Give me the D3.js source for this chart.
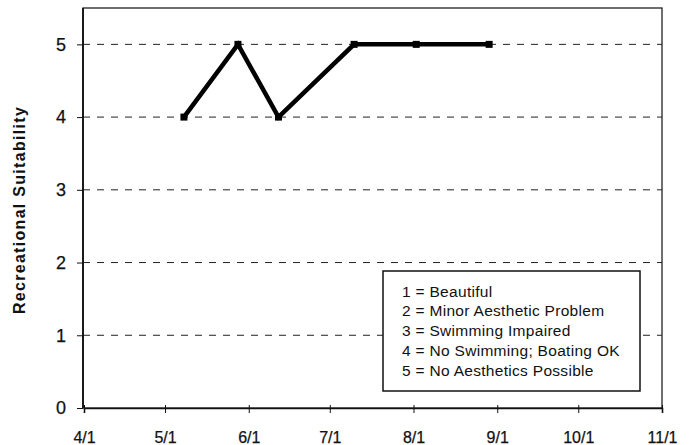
<!DOCTYPE html>
<html><head><meta charset="utf-8">
<script src="https://cdn.jsdelivr.net/npm/d3@7"></script>
<style>
body{margin:0;background:#fff;}
svg{display:block;font-family:"Liberation Sans",Arial,sans-serif;}
</style></head>
<body>
<svg id="c" width="697" height="445"></svg>
<script>
// Data
const dates = ["2001-05-08","2001-05-28","2001-06-12","2001-07-10","2001-08-02","2001-08-29"];
const values = [4, 5, 4, 5, 5, 5];
const xTickLabels = ["4/1","5/1","6/1","7/1","8/1","9/1","10/1","11/1"];
const yTicks = [0,1,2,3,4,5];
const gridValues = [1,2,3,4,5];
const legendLines = ["1 = Beautiful","2 = Minor Aesthetic Problem","3 = Swimming Impaired","4 = No Swimming; Boating OK","5 = No Aesthetics Possible"];
const yTitle = "Recreational Suitability";

const parse = d3.timeParse("%Y-%m-%d");
const xTickDates = ["2001-04-01","2001-05-01","2001-06-01","2001-07-01","2001-08-01","2001-09-01","2001-10-01","2001-11-01"].map(parse);
const data = dates.map((d,i)=>({date:parse(d), v:values[i]}));

const svg = d3.select("#c");
const L=83, R=662, T=8, B=408;
const x = d3.scaleTime().domain([xTickDates[0], xTickDates[xTickDates.length-1]]).range([L+1, R]);
const y = d3.scaleLinear().domain([0,5.5]).range([B, T]);

// plot frame
svg.append("rect").attr("x",L).attr("y",T).attr("width",R-L).attr("height",B-T)
  .attr("fill","none").attr("stroke","#222").attr("stroke-width",1.3);

// gridlines
svg.append("g").selectAll("line").data(gridValues).join("line")
  .attr("x1",L).attr("x2",R).attr("y1",d=>y(d)).attr("y2",d=>y(d))
  .attr("stroke","#222").attr("stroke-width",1).attr("stroke-dasharray","7,7");

// x axis
const xAxis = d3.axisBottom(x).tickValues(xTickDates).tickSize(5)
  .tickFormat((d,i)=>xTickLabels[i]);
const gx = svg.append("g").attr("transform",`translate(0,${B})`).call(xAxis);
gx.select(".domain").attr("stroke","#111").attr("stroke-width",1.6);
gx.selectAll(".tick line").attr("stroke","#111").attr("y1",-3);
gx.selectAll("text").attr("font-size",16).attr("fill","#111").attr("dy",0).attr("y",35)
  .attr("stroke","#111").attr("stroke-width",0.25)
  .attr("font-family","'Liberation Sans',Arial,sans-serif");

// y axis
const yAxis = d3.axisLeft(y).tickValues(yTicks).tickSize(6).tickPadding(11).tickFormat(d3.format("d"));
const gy = svg.append("g").attr("transform",`translate(${L},0)`).call(yAxis);
gy.select(".domain").attr("stroke","#111").attr("stroke-width",1.8).attr("d",`M0,${T}V${B}`);
gy.selectAll(".tick line").attr("stroke","#111");
gy.selectAll("text").attr("font-size",18).attr("fill","#111")
  .attr("stroke","#111").attr("stroke-width",0.25)
  .attr("font-family","'Liberation Sans',Arial,sans-serif");

// y title
svg.append("text").attr("transform",`translate(25,210) rotate(-90)`)
  .attr("text-anchor","middle").attr("font-size",16).attr("font-weight","bold").attr("fill","#111")
  .attr("letter-spacing",1.3)
  .text(yTitle);

// line
const line = d3.line().x(d=>x(d.date)).y(d=>y(d.v));
svg.append("path").datum(data).attr("d",line).attr("fill","none")
  .attr("stroke","#000").attr("stroke-width",4.5).attr("stroke-linejoin","miter");
svg.append("g").selectAll("rect").data(data).join("rect")
  .attr("x",d=>x(d.date)-3.5).attr("y",d=>y(d.v)-3.5).attr("width",7).attr("height",7).attr("fill","#000");

// legend
const lg = svg.append("g");
lg.append("rect").attr("x",383).attr("y",271).attr("width",257).attr("height",120)
  .attr("fill","#fff").attr("stroke","#111").attr("stroke-width",1.5);
lg.selectAll("text").data(legendLines).join("text")
  .attr("x",402).attr("y",(d,i)=>296.5+i*19.8).attr("font-size",15.5).attr("letter-spacing",0.3)
  .attr("fill","#111").text(d=>d);
</script>
</body></html>
